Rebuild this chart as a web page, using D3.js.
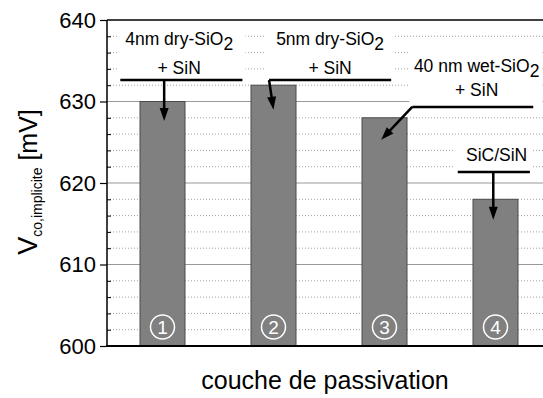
<!DOCTYPE html>
<html><head><meta charset="utf-8">
<script src="https://cdn.jsdelivr.net/npm/d3@7/dist/d3.min.js"></script>
<style>
html,body{margin:0;padding:0;background:#fff;}
svg{display:block;font-family:"Liberation Sans",Arial,sans-serif;}
</style></head>
<body>
<svg id="chart" width="543" height="398"></svg>
<script>
// ---- data ----
const categories = [1, 2, 3, 4];
const values = [630, 632, 628, 618];
const barLabels = ["1", "2", "3", "4"];
const yTicks = [600, 610, 620, 630, 640];
const yMinorTicks = [602,604,606,608,612,614,616,618,622,624,626,628,632,634,636,638];
const annMain = ["4nm dry-SiO", "5nm dry-SiO", "40 nm wet-SiO", "SiC/SiN"];
const annSub = ["2", "2", "2", ""];
const annSecond = ["+ SiN", "+ SiN", "+ SiN", ""];
// annotation anchors in data units (category units, mV)
const annTextX = [1.15, 2.51, 3.83, 4.01];
const annText1Y = [636.93, 636.93, 633.6, 622.7];
const annText2Y = [633.37, 633.37, 630.67, null];
const annLineY = [632.64, 632.64, 629.33, 621.35];
const annLineX1 = [0.62, 1.96, 3.25, 3.66];
const annLineX2 = [1.72, 3.06, 4.34, 4.31];
const arrowStart = [[1.015, 632.64], [1.96, 632.64], [3.25, 629.33], [3.98, 621.35]];
const arrowEnd = [[1.015, 627.6], [2.0, 629.0], [2.97, 625.3], [3.98, 615.5]];
const xTitle = "couche de passivation";

// ---- layout ----
const svg = d3.select("#chart");
const L = 107, T = 20, B = 346, Rvis = 543;
const x = d3.scaleLinear().domain([0.5, 4.5]).range([L, 551]);
const y = d3.scaleLinear().domain([600, 640]).range([B, T]);
const barW = 45;

// gridlines
const g = svg.append("g");
g.selectAll("line.minor").data(yMinorTicks).join("line")
  .attr("x1", L).attr("x2", Rvis).attr("y1", d => y(d)).attr("y2", d => y(d))
  .attr("stroke", "#a0a0a0").attr("stroke-width", 1).attr("stroke-dasharray", "1,2");
g.selectAll("line.major").data(yTicks.filter(d => d > 600 && d < 640)).join("line")
  .attr("x1", L).attr("x2", Rvis).attr("y1", d => y(d)).attr("y2", d => y(d))
  .attr("stroke", "#999").attr("stroke-width", 1);

// annotation groups (white background boxes)
const annG = svg.append("g");
const boxes = annG.append("g");
const textsG = annG.append("g");
annMain.forEach((t, i) => {
  const gi = textsG.append("g");
  const tx = gi.append("text").attr("x", x(annTextX[i])).attr("y", y(annText1Y[i]))
    .attr("text-anchor", "middle").attr("font-size", 17.5).attr("fill", "#000");
  tx.append("tspan").text(t);
  if (annSub[i]) tx.append("tspan").attr("dy", 5).text(annSub[i]);
  if (annSecond[i]) {
    gi.append("text").attr("x", x(annTextX[i])).attr("y", y(annText2Y[i]))
      .attr("text-anchor", "middle").attr("font-size", 17.5).attr("fill", "#000").text(annSecond[i]);
  }
  const bb = gi.node().getBBox();
  const x0 = Math.min(bb.x, x(annLineX1[i])) - 3;
  const x1 = Math.min(Math.max(bb.x + bb.width, x(annLineX2[i])) + 3, Rvis);
  const y0 = bb.y - 5;
  const y1 = y(annLineY[i]) + 2;
  boxes.append("rect").attr("x", x0).attr("y", y0).attr("width", x1 - x0).attr("height", y1 - y0)
    .attr("fill", "#fff");
});

// bars
svg.append("g").selectAll("rect").data(values).join("rect")
  .attr("x", (d, i) => x(categories[i]) - barW / 2)
  .attr("y", d => y(d))
  .attr("width", barW)
  .attr("height", d => y(600) - y(d))
  .attr("fill", "#808080").attr("stroke", "#4a4a4a").attr("stroke-width", 1);

// circled numbers
const cg = svg.append("g");
barLabels.forEach((t, i) => {
  const cy = y(602.33);
  cg.append("circle").attr("cx", x(categories[i])).attr("cy", cy).attr("r", 12)
    .attr("fill", "none").attr("stroke", "#fff").attr("stroke-width", 1.5);
  cg.append("text").attr("x", x(categories[i])).attr("y", cy + 7)
    .attr("text-anchor", "middle").attr("font-size", 19).attr("fill", "#fff").text(t);
});

// annotation lines + arrows
const ag = svg.append("g");
annMain.forEach((t, i) => {
  ag.append("line").attr("x1", x(annLineX1[i])).attr("x2", x(annLineX2[i]))
    .attr("y1", y(annLineY[i])).attr("y2", y(annLineY[i]))
    .attr("stroke", "#000").attr("stroke-width", 2.5);
  const sx = x(arrowStart[i][0]), sy = y(arrowStart[i][1]);
  const ex = x(arrowEnd[i][0]), ey = y(arrowEnd[i][1]);
  const dx = ex - sx, dy = ey - sy, len = Math.hypot(dx, dy);
  const ux = dx / len, uy = dy / len;
  const hl = 13, hw = 4.5;
  const bx = ex - ux * hl, by = ey - uy * hl;
  ag.append("line").attr("x1", sx).attr("y1", sy).attr("x2", bx + ux * 1).attr("y2", by + uy * 1)
    .attr("stroke", "#000").attr("stroke-width", 2.5);
  ag.append("path")
    .attr("d", `M${ex},${ey}L${bx - uy * hw},${by + ux * hw}L${bx + uy * hw},${by - ux * hw}Z`)
    .attr("fill", "#000");
});

// axes frame
const ax = svg.append("g");
ax.append("line").attr("x1", L).attr("x2", L).attr("y1", T).attr("y2", B)
  .attr("stroke", "#000").attr("stroke-width", 1.5);
ax.append("line").attr("x1", L).attr("x2", Rvis).attr("y1", T).attr("y2", T)
  .attr("stroke", "#000").attr("stroke-width", 1.5);
ax.append("line").attr("x1", L - 1).attr("x2", Rvis).attr("y1", B).attr("y2", B)
  .attr("stroke", "#000").attr("stroke-width", 2);

// y axis ticks with d3 axis
const yAxis = d3.axisLeft(y).tickValues(yTicks).tickSize(7).tickPadding(4).tickFormat(d3.format("d"));
const yg = svg.append("g").attr("transform", `translate(${L},0)`).call(yAxis);
yg.select(".domain").remove();
yg.selectAll(".tick line").attr("stroke", "#000").attr("stroke-width", 1.2);
yg.selectAll(".tick text").attr("font-size", 22).attr("fill", "#000")
  .attr("font-family", "'Liberation Sans',Arial,sans-serif");
const yMinor = d3.axisRight(y).tickValues(yMinorTicks).tickSize(4).tickFormat("");
const ym = svg.append("g").attr("transform", `translate(${L},0)`).call(yMinor);
ym.select(".domain").remove();
ym.selectAll(".tick line").attr("stroke", "#000").attr("stroke-width", 1);

// axis titles
const yt = svg.append("text").attr("transform", `translate(37,182) rotate(-90)`)
  .attr("text-anchor", "middle").attr("fill", "#000");
yt.append("tspan").attr("font-size", 27).text("V");
yt.append("tspan").attr("font-size", 14).attr("dy", 5).text("co,implicite");
yt.append("tspan").attr("font-size", 25).attr("dy", -5).text(" [mV]");

svg.append("text").attr("x", (L + Rvis) / 2).attr("y", 389).attr("text-anchor", "middle")
  .attr("font-size", 25).attr("fill", "#000").text(xTitle);
</script>
</body></html>
